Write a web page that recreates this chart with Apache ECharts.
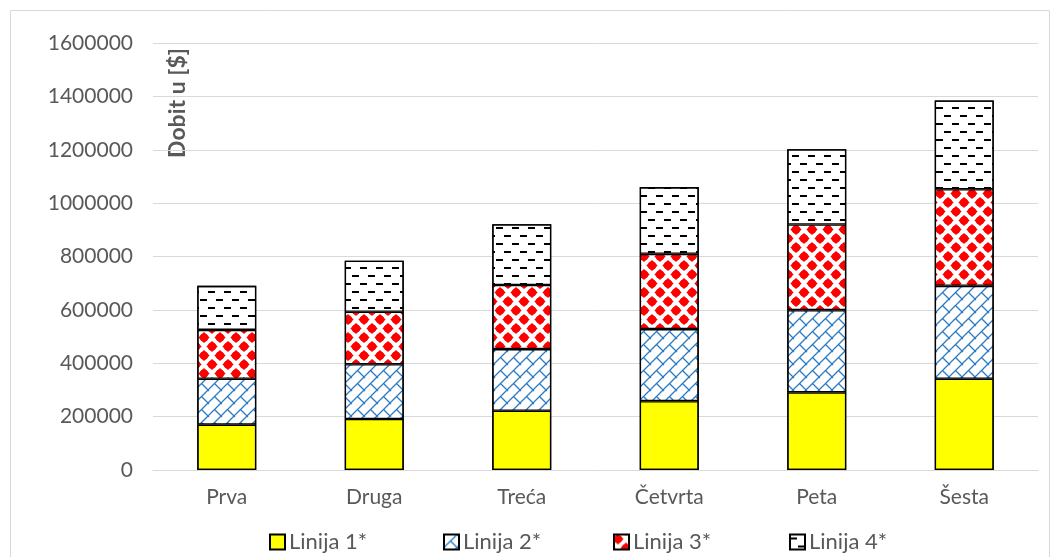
<!DOCTYPE html>
<html>
<head>
<meta charset="utf-8">
<script src="https://cdn.jsdelivr.net/npm/echarts@6/dist/echarts.min.js"></script>
<style>
  html, body { margin: 0; padding: 0; background: #fff; }
  #chart { width: 1056px; height: 557px; }
</style>
</head>
<body>
<div id="chart"></div>
<script>
// Profit per period, stacked by production line
const categories = ['Prva', 'Druga', 'Treća', 'Četvrta', 'Peta', 'Šesta'];
const linija1 = [170000, 191000, 222000, 258000, 291000, 342000];
const linija2 = [172000, 205000, 231000, 270000, 308000, 348000];
const linija3 = [183000, 197000, 240000, 282000, 321000, 362000];
const linija4 = [165000, 191000, 228000, 250000, 282000, 333000];
const seriesNames = ['Linija 1*', 'Linija 2*', 'Linija 3*', 'Linija 4*'];
const yTicks = { min: 0, max: 1600000, step: 200000 };

const FONT = 'Lato';
const TEXT = '#595959';
const GRID = '#d9d9d9';

function makeTile(w, h, draw) {
  const c = document.createElement('canvas');
  c.width = w; c.height = h;
  const ctx = c.getContext('2d');
  ctx.fillStyle = '#ffffff';
  ctx.fillRect(0, 0, w, h);
  draw(ctx, w, h);
  return { image: c, repeat: 'repeat' };
}

// blue diagonal brick
const brick = makeTile(13, 13, (ctx, w, h) => {
  ctx.strokeStyle = '#2b7bc4';
  ctx.lineWidth = 1.3;
  ctx.beginPath();
  ctx.moveTo(-1, h + 1); ctx.lineTo(w + 1, -1);
  ctx.moveTo(w / 2, h / 2); ctx.lineTo(w + 1, h + 1);
  ctx.moveTo(-1, -1); ctx.lineTo(1, 1);
  ctx.stroke();
});

// red sphere lattice
const spheres = makeTile(16, 18, (ctx) => {
  ctx.fillStyle = '#ff0000';
  const blob = (x, y) => {
    ctx.beginPath(); ctx.arc(x, y, 4.1, 0, Math.PI * 2); ctx.fill();
    ctx.beginPath();
    ctx.moveTo(x, y - 5.6); ctx.lineTo(x + 5.6, y); ctx.lineTo(x, y + 5.6); ctx.lineTo(x - 5.6, y);
    ctx.closePath(); ctx.fill();
  };
  blob(4, 4.5); blob(12, 13.5); blob(20, 4.5); blob(-4, 13.5);
  blob(12, -4.5); blob(4, 22.5); blob(-4, -4.5); blob(20, 22.5);
});

// black dashed rows
const dashes = makeTile(16, 16, (ctx) => {
  ctx.fillStyle = '#000000';
  ctx.fillRect(0, 3, 7, 2);
  ctx.fillRect(8, 11, 7, 2);
});

const fills = ['#ffff00', brick, spheres, dashes];
const values = [linija1, linija2, linija3, linija4];
const totals = categories.map((_, i) => values.reduce((s, v) => s + v[i], 0));

const chart = echarts.init(document.getElementById('chart'), null, { renderer: 'canvas' });

const legendLefts = [264, 438, 608, 784];

const segmentSeries = seriesNames.map((n, i) => ({
  name: n,
  type: 'bar',
  stack: 'dobit',
  barWidth: '40%',
  barGap: '-100%',
  data: values[i],
  itemStyle: { color: fills[i], borderColor: '#000000', borderWidth: 1.3 }
}));

// outer outline of each whole column
const outlineSeries = {
  name: 'outline',
  type: 'bar',
  stack: 'outline',
  barWidth: '40%',
  barGap: '-100%',
  silent: true,
  data: totals,
  itemStyle: { color: 'rgba(0,0,0,0)', borderColor: '#000000', borderWidth: 1.3 }
};

chart.setOption({
  animation: false,
  backgroundColor: '#ffffff',
  grid: { left: 153, right: 18, top: 43, bottom: 87, containLabel: false },
  xAxis: {
    type: 'category',
    data: categories,
    axisLine: { show: true, lineStyle: { color: GRID, width: 1 } },
    axisTick: { show: false },
    axisLabel: { color: TEXT, fontFamily: FONT, fontSize: 21, margin: 17 }
  },
  yAxis: {
    type: 'value',
    min: yTicks.min, max: yTicks.max, interval: yTicks.step,
    axisLine: { show: false },
    axisTick: { show: false },
    splitLine: { lineStyle: { color: GRID, width: 1 } },
    axisLabel: {
      color: TEXT, fontFamily: FONT, fontSize: 21, margin: 20,
      formatter: v => String(v)
    }
  },
  legend: seriesNames.map((n, i) => ({
    data: [n],
    left: legendLefts[i],
    top: 526,
    itemWidth: 15, itemHeight: 15, itemGap: 5,
    icon: 'rect',
    textStyle: { color: TEXT, fontFamily: FONT, fontSize: 22, padding: [0, 0, 0, -1] }
  })),
  graphic: [
    {
      type: 'rect',
      shape: { x: 10.5, y: 10.5, width: 1039, height: 560 },
      style: { fill: 'none', stroke: GRID, lineWidth: 1 },
      silent: true
    },
    {
      type: 'text',
      x: 178, y: 103,
      rotation: Math.PI / 2,
      style: {
        text: 'Dobit u [$]',
        fill: TEXT,
        font: 'bold 23px ' + FONT,
        align: 'center',
        verticalAlign: 'middle'
      }
    }
  ],
  series: segmentSeries.concat([outlineSeries])
});
</script>
</body>
</html>
